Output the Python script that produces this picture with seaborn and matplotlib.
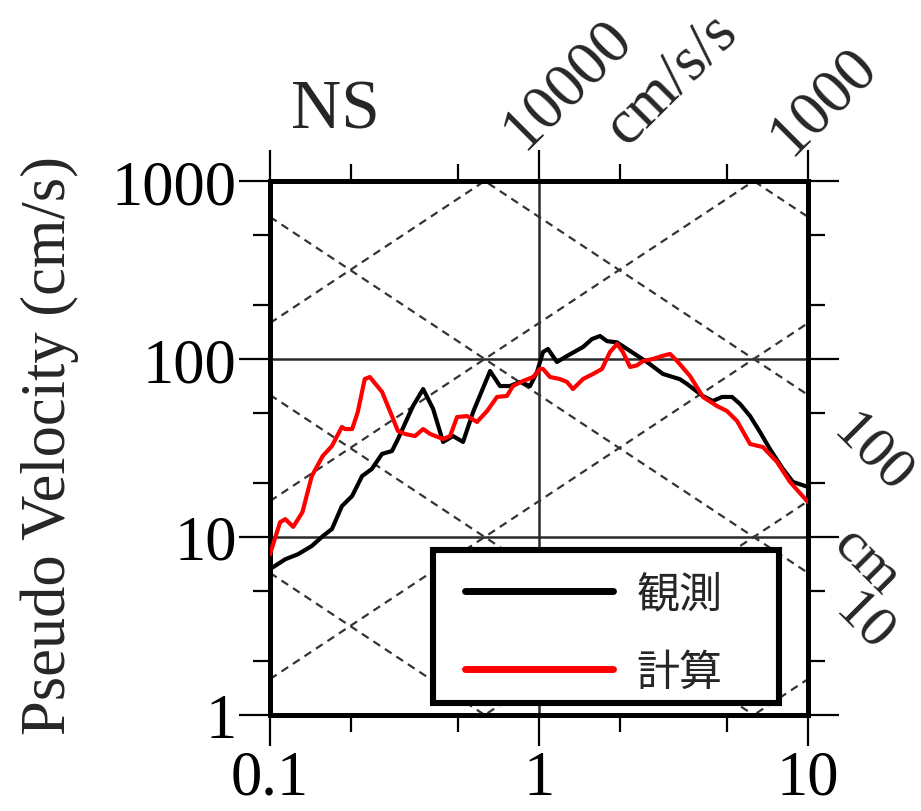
import numpy as np
import pandas as pd
import matplotlib
matplotlib.use("Agg")
import matplotlib.pyplot as plt
import seaborn as sns
from matplotlib.patches import Rectangle
from matplotlib.ticker import FixedLocator, FixedFormatter, NullFormatter

# Observed (観測) pseudo-velocity response spectrum, period [s] vs Sv [cm/s]
period_obs = [0.100, 0.114, 0.127, 0.143, 0.157, 0.170, 0.185, 0.202, 0.220, 0.239,
              0.261, 0.284, 0.299, 0.340, 0.371, 0.404, 0.440, 0.479, 0.522, 0.569,
              0.658, 0.716, 0.780, 0.850, 0.926, 0.983, 1.035, 1.080, 1.166, 1.271,
              1.458, 1.574, 1.686, 1.790, 1.95, 2.18, 2.52, 2.89, 3.34, 3.55,
              4.07, 4.43, 4.79, 5.22, 5.59, 6.09, 6.63, 7.22, 8.07, 8.79, 10.0]
vel_obs = [6.6, 7.5, 8.0, 8.9, 10.1, 11.1, 14.9, 17.0, 22.0, 24.1,
           29.3, 30.4, 35.5, 54.4, 67.8, 52.4, 34.2, 36.9, 34.2, 50.4,
           85.6, 70.5, 70.5, 74.3, 70.5, 84.5, 109.5, 113.8, 96.2, 104.0,
           116.8, 129.5, 134.6, 126.0, 124.0, 111.0, 96.2, 82.4, 77.0, 72.4,
           61.9, 58.1, 61.2, 61.2, 55.9, 47.8, 38.9, 31.2, 24.1, 20.4, 19.1]

# Simulated (計算) spectrum
period_calc = [0.100, 0.109, 0.114, 0.122, 0.132, 0.143, 0.157, 0.170, 0.185, 0.190,
               0.202, 0.212, 0.225, 0.235, 0.261, 0.284, 0.299, 0.318, 0.346, 0.371,
               0.394, 0.440, 0.467, 0.496, 0.540, 0.588, 0.641, 0.698, 0.760, 0.800,
               0.872, 0.950, 1.009, 1.035, 1.099, 1.196, 1.271, 1.337, 1.458, 1.588,
               1.714, 1.836, 1.95, 2.05, 2.18, 2.31, 2.44, 2.65, 2.87, 3.07,
               3.26, 3.64, 4.07, 4.59, 5.00, 5.45, 6.09, 6.80, 7.67, 8.57, 10.0]
vel_calc = [8.0, 12.1, 12.6, 11.4, 13.8, 22.0, 28.5, 32.5, 41.5, 40.4,
            40.4, 50.4, 77.2, 79.2, 65.3, 47.8, 39.4, 37.9, 36.9, 40.4,
            37.9, 35.5, 36.9, 47.2, 47.8, 44.3, 51.0, 61.2, 62.0, 70.5,
            75.2, 79.2, 87.9, 87.9, 79.2, 77.2, 74.3, 67.8, 77.2, 82.4,
            87.9, 109.5, 121.4, 109.5, 90.2, 92.0, 97.5, 100.0, 104.0, 106.7,
            97.5, 80.3, 61.2, 54.4, 51.0, 44.8, 33.3, 32.0, 26.4, 20.4, 15.7]

series_names = ["観測", "計算"]
series_colors = ["black", "red"]

x_ticks = [0.1, 1, 10]
x_tick_labels = ["0.1", "1", "10"]
y_ticks = [1, 10, 100, 1000]
y_tick_labels = ["1", "10", "100", "1000"]
x_minor = [0.2, 0.5, 2, 5]
y_minor = [2, 5, 20, 50, 200, 500]

# tripartite guide lines
accel_levels = [1, 10, 100, 1000, 10000]      # cm/s/s
disp_levels = [0.1, 1, 10, 100, 1000]         # cm

sns.set_style("ticks")
plt.rcParams["font.family"] = ["Liberation Serif", "DejaVu Serif"]

df = pd.concat([
    pd.DataFrame({"period": period_obs, "velocity": vel_obs, "series": series_names[0]}),
    pd.DataFrame({"period": period_calc, "velocity": vel_calc, "series": series_names[1]}),
], ignore_index=True)

fig = plt.figure(figsize=(9.21, 8.12), dpi=100)
ax = fig.add_axes([270 / 921, 1 - 716 / 812, 538 / 921, 534 / 812])
ax.set_xscale("log")
ax.set_yscale("log")

# constant-acceleration and constant-displacement guides
t_span = np.array([0.1, 10.0])
for a in accel_levels:
    ax.plot(t_span, a * t_span / (2 * np.pi), color="#333333", lw=1.6,
            dashes=(3.6, 2.6), zorder=1)
for d in disp_levels:
    ax.plot(t_span, 2 * np.pi * d / t_span, color="#333333", lw=1.6,
            dashes=(3.6, 2.6), zorder=1)

sns.lineplot(data=df, x="period", y="velocity", hue="series",
             palette=dict(zip(series_names, series_colors)),
             estimator=None, sort=False, lw=3.0, ax=ax, zorder=3)

ax.set_xlim(0.1, 10)
ax.set_ylim(1, 1000)

ax.xaxis.set_major_locator(FixedLocator(x_ticks))
ax.xaxis.set_major_formatter(FixedFormatter(x_tick_labels))
ax.yaxis.set_major_locator(FixedLocator(y_ticks))
ax.yaxis.set_major_formatter(FixedFormatter(y_tick_labels))
ax.xaxis.set_minor_locator(FixedLocator(x_minor))
ax.yaxis.set_minor_locator(FixedLocator(y_minor))
ax.xaxis.set_minor_formatter(NullFormatter())
ax.yaxis.set_minor_formatter(NullFormatter())

ax.grid(True, which="major", color="#2a2a2a", lw=1.8, zorder=2)
ax.set_axisbelow(True)

ax.tick_params(which="both", direction="out", top=True, right=True,
               labeltop=False, labelright=False, width=1.6, color="black",
               labelsize=45, labelcolor="black")
ax.tick_params(which="major", length=22)
ax.tick_params(which="minor", length=12)
ax.tick_params(axis="y", which="major", pad=2)
ax.tick_params(axis="x", which="major", pad=3)

for side in ax.spines.values():
    side.set_linewidth(3.6)
    side.set_color("black")
    side.set_visible(True)

ax.set_xlabel("")
ax.set_ylabel("Pseudo Velocity (cm/s)", fontsize=45, va="center")
ax.yaxis.set_label_coords(-0.409, 0.506)

ax.text(0.121, 1.131, "NS", transform=ax.transAxes, fontsize=50,
        ha="center", va="center")

# guide-line scale labels
ax.text(0.554, 1.182, "10000", transform=ax.transAxes, fontsize=45,
        rotation=45, ha="center", va="center")
ax.text(0.747, 1.191, "cm/s/s", transform=ax.transAxes, fontsize=45,
        rotation=45, ha="center", va="center")
ax.text(1.030, 1.150, "1000", transform=ax.transAxes, fontsize=45,
        rotation=45, ha="center", va="center")
ax.text(1.120, 0.489, "100", transform=ax.transAxes, fontsize=42,
        rotation=-45, ha="center", va="center")
ax.text(1.108, 0.287, "cm", transform=ax.transAxes, fontsize=42,
        rotation=-45, ha="center", va="center")
ax.text(1.104, 0.174, "10", transform=ax.transAxes, fontsize=42,
        rotation=-45, ha="center", va="center")

# legend box
ax.add_patch(Rectangle((0.303, 0.0225), 0.643, 0.2865, transform=ax.transAxes,
                       facecolor="white", edgecolor="black", lw=4.4,
                       zorder=4, clip_on=False))

handles, labels = ax.get_legend_handles_labels()
for h in handles:
    h.set_linewidth(5.0)
leg = ax.legend(handles, labels, loc="center left",
                bbox_to_anchor=(0.3625, 0.153),
                prop={"family": ["Noto Sans CJK JP", "DejaVu Sans"], "size": 31},
                handlelength=3.44, handletextpad=0.55, labelspacing=0.8,
                borderpad=0, borderaxespad=0, frameon=False)
leg.set_zorder(5)

fig.savefig("out.png", dpi=100)
